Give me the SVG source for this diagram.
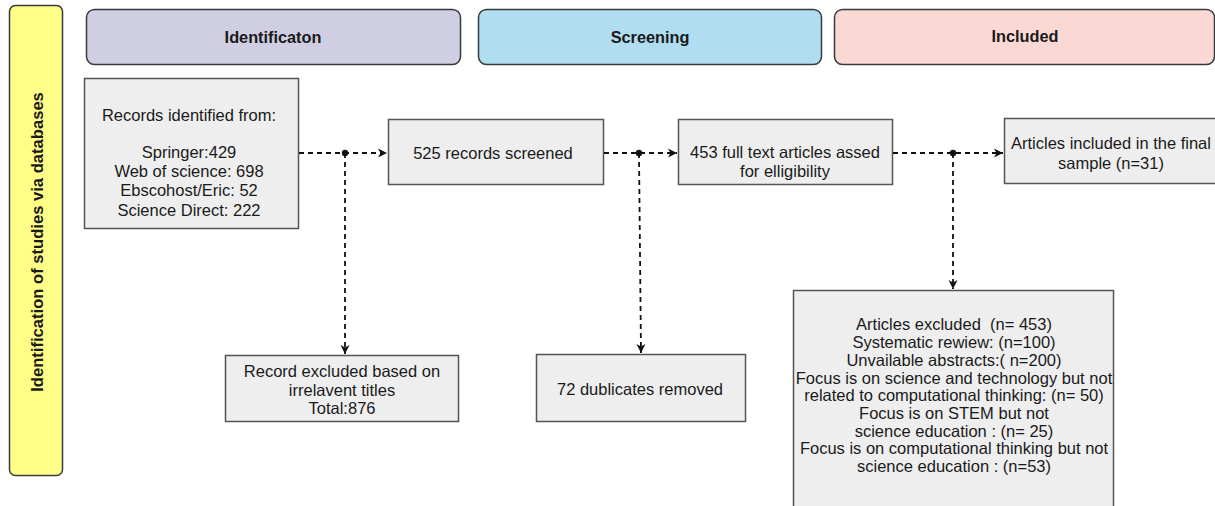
<svg xmlns="http://www.w3.org/2000/svg" width="1215" height="506" viewBox="0 0 1215 506">
<style>
.hdr{stroke:#36393d;stroke-width:1.5}
.box{fill:#eeeeee;stroke:#555555;stroke-width:1.5}
.t{font-family:"Liberation Sans",Arial,sans-serif;font-size:16.5px;fill:#1a1a1a;text-anchor:middle;dominant-baseline:central;white-space:pre}
.h{font-family:"Liberation Sans",Arial,sans-serif;font-size:16.3px;font-weight:bold;fill:#1a1a1a;text-anchor:middle;dominant-baseline:central}
.c{fill:none;stroke:#111;stroke-width:1.8;stroke-dasharray:5 4}
</style>
<defs>
<marker id="arr" markerWidth="12" markerHeight="12" refX="10" refY="6" orient="auto" markerUnits="userSpaceOnUse">
<path d="M1,1.5 L10,6 L1,10.5 L3.5,6 Z" fill="#111"/>
</marker>
</defs>
<rect width="1215" height="506" fill="#ffffff"/>
<g id="side">
<rect x="9.5" y="5.5" width="53" height="470" rx="6" fill="#ffff88" class="hdr"/>
<text class="h" style="font-size:16.6px" transform="translate(37,242) rotate(-90)">Identification of studies via databases</text>
</g>
<g id="hdr-identification">
<rect x="86.5" y="9.5" width="374" height="55" rx="8" fill="#d0cee2" class="hdr"/>
<text class="h" x="273" y="37">Identificaton</text>
</g>
<g id="hdr-screening">
<rect x="478.5" y="9.5" width="343" height="55" rx="8" fill="#b1ddf0" class="hdr"/>
<text class="h" x="650" y="37">Screening</text>
</g>
<g id="hdr-included">
<rect x="834.5" y="9.5" width="380" height="55" rx="8" fill="#fad9d5" class="hdr"/>
<text class="h" x="1025" y="36">Included</text>
</g>
<g id="records">
<rect x="84.5" y="78.5" width="214" height="150" class="box"/>
<text class="t" x="189" y="115">Records identified from:</text>
<text class="t" x="189" y="152">Springer:429</text>
<text class="t" x="189" y="171">Web of science: 698</text>
<text class="t" x="189" y="190">Ebscohost/Eric: 52</text>
<text class="t" x="189" y="210">Science Direct: 222</text>
</g>
<g id="screened">
<rect x="388.5" y="119.5" width="215" height="65" class="box"/>
<text class="t" x="493" y="153">525 records screened</text>
</g>
<g id="fulltext">
<rect x="678.5" y="119.5" width="214" height="65" class="box"/>
<text class="t" x="785" y="152">453 full text articles assed</text>
<text class="t" x="785" y="171">for elligibility</text>
</g>
<g id="final">
<rect x="1004.5" y="118.5" width="214" height="65" class="box"/>
<text class="t" x="1111" y="143">Articles included in the final</text>
<text class="t" x="1111" y="163">sample (n=31)</text>
</g>
<g id="excluded-titles">
<rect x="225.5" y="355.5" width="233" height="66" class="box"/>
<text class="t" x="342" y="371">Record excluded based on</text>
<text class="t" x="342" y="390">irrelavent titles</text>
<text class="t" x="342" y="408">Total:876</text>
</g>
<g id="duplicates">
<rect x="536.5" y="354.5" width="209" height="67" class="box"/>
<text class="t" x="640" y="389">72 dublicates removed</text>
</g>
<g id="excluded-articles">
<rect x="793.5" y="290.5" width="320" height="230" class="box"/>
<text class="t" x="954" y="324">Articles excluded  (n= 453)</text>
<text class="t" x="954" y="342">Systematic rewiew: (n=100)</text>
<text class="t" x="954" y="360">Unvailable abstracts:( n=200)</text>
<text class="t" x="954" y="378">Focus is on science and technology but not</text>
<text class="t" x="954" y="395">related to computational thinking: (n= 50)</text>
<text class="t" x="954" y="413">Focus is on STEM but not</text>
<text class="t" x="954" y="431">science education : (n= 25)</text>
<text class="t" x="954" y="448">Focus is on computational thinking but not</text>
<text class="t" x="954" y="466">science education : (n=53)</text>
</g>
<g id="connectors">
<path class="c" d="M299,153 H387" marker-end="url(#arr)"/>
<path class="c" d="M345,153 V354" marker-end="url(#arr)"/>
<path class="c" d="M604,153 H677" marker-end="url(#arr)"/>
<path class="c" d="M639,153 L641,353" marker-end="url(#arr)"/>
<path class="c" d="M893,153 H1003" marker-end="url(#arr)"/>
<path class="c" d="M953,153 V289" marker-end="url(#arr)"/>
<circle cx="345" cy="153" r="3.2" fill="#111"/>
<circle cx="639" cy="153" r="3.2" fill="#111"/>
<circle cx="953" cy="153" r="3.2" fill="#111"/>
</g>
</svg>
